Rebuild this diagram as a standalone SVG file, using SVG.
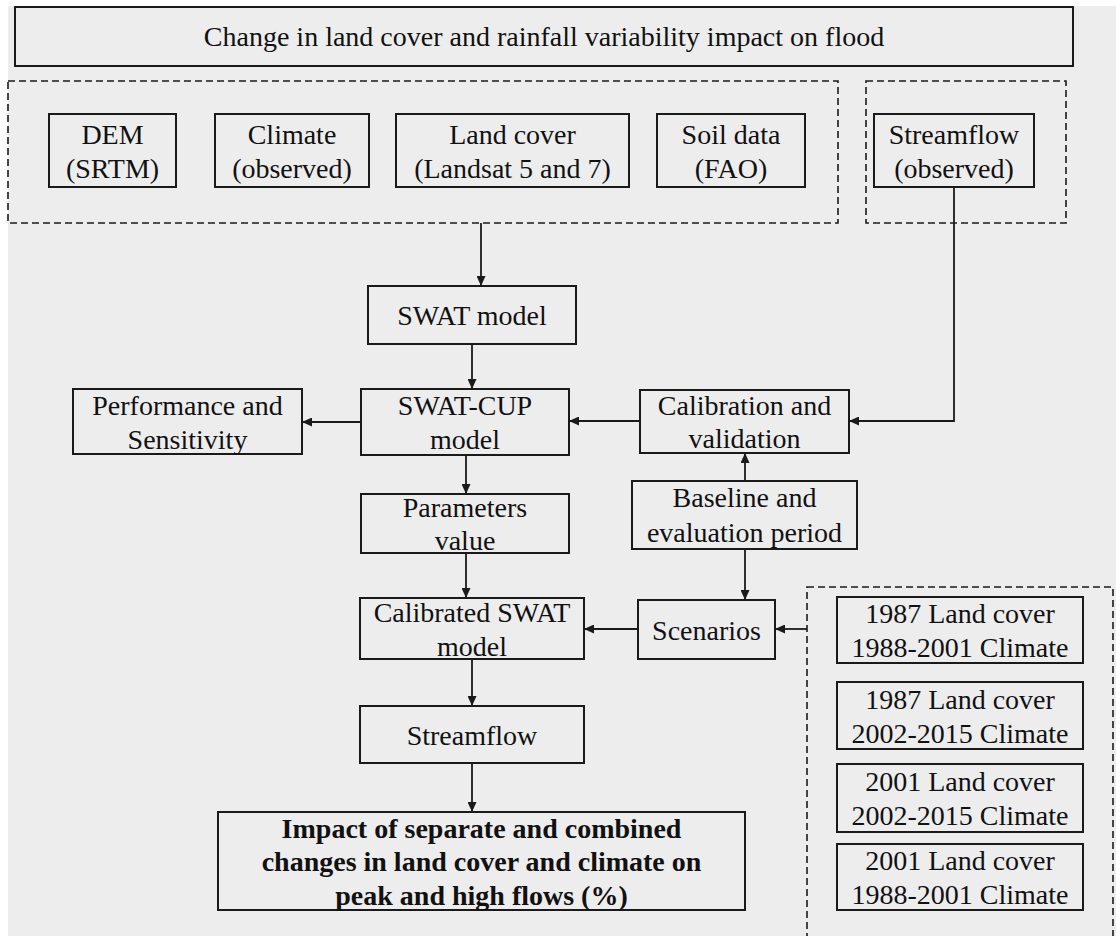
<svg xmlns="http://www.w3.org/2000/svg" width="1116" height="936" viewBox="0 0 1116 936">
<style>
.box{fill:none;stroke:#1a1a1a;stroke-width:2}
.dash{fill:none;stroke:#1a1a1a;stroke-width:1.6;stroke-dasharray:7 4}
.ln{fill:none;stroke:#1a1a1a;stroke-width:1.8}
text{font-family:"Liberation Serif","Times New Roman",serif;font-size:28px;fill:#111;text-anchor:middle}
.b{font-weight:bold}
</style>
<defs>
<marker id="ah" markerUnits="userSpaceOnUse" markerWidth="11" markerHeight="9" refX="10" refY="4.5" orient="auto">
<path d="M0,0 L10,4.5 L0,9 Z" fill="#1a1a1a"/>
</marker>
</defs>
<rect x="0" y="0" width="1116" height="936" fill="#ffffff"/>
<rect x="8" y="6" width="1108" height="930" fill="#ededed"/>

<g id="title"><rect class="box" x="15" y="7" width="1058" height="59"/><text x="544" y="46">Change in land cover and rainfall variability impact on flood</text></g>

<g id="inputs-group"><rect class="dash" x="8" y="81" width="830" height="142"/></g>
<g id="streamflow-obs-group"><rect class="dash" x="866" y="81" width="200" height="142"/></g>
<g id="scenario-group"><rect class="dash" x="807" y="587" width="306" height="360"/></g>

<g id="dem"><rect class="box" x="49" y="114" width="127" height="73"/><text x="112.5" y="143.5">DEM</text><text x="112.5" y="177.5">(SRTM)</text></g>
<g id="climate"><rect class="box" x="215" y="114" width="154" height="73"/><text x="292" y="143.5">Climate</text><text x="292" y="177.5">(observed)</text></g>
<g id="landcover"><rect class="box" x="396" y="114" width="233" height="73"/><text x="512.5" y="143.5">Land cover</text><text x="512.5" y="177.5">(Landsat 5 and 7)</text></g>
<g id="soil"><rect class="box" x="657" y="114" width="148" height="73"/><text x="731" y="143.5">Soil data</text><text x="731" y="177.5">(FAO)</text></g>
<g id="streamflow-obs"><rect class="box" x="874" y="114" width="160" height="73"/><text x="954" y="143.5">Streamflow</text><text x="954" y="177.5">(observed)</text></g>

<g id="swat"><rect class="box" x="368" y="286" width="208" height="58"/><text x="472" y="325">SWAT model</text></g>
<g id="swatcup"><rect class="box" x="361" y="389" width="208" height="66"/><text x="465" y="415">SWAT-CUP</text><text x="465" y="449">model</text></g>
<g id="performance"><rect class="box" x="73" y="389" width="229" height="65"/><text x="187.5" y="415">Performance and</text><text x="187.5" y="449">Sensitivity</text></g>
<g id="calibration"><rect class="box" x="640" y="390" width="209" height="63"/><text x="744.5" y="415">Calibration and</text><text x="744.5" y="448">validation</text></g>
<g id="baseline"><rect class="box" x="632" y="481" width="225" height="68"/><text x="744.5" y="507">Baseline and</text><text x="744.5" y="542">evaluation period</text></g>
<g id="parameters"><rect class="box" x="361" y="494" width="208" height="59"/><text x="465" y="517">Parameters</text><text x="465" y="550">value</text></g>
<g id="calibrated"><rect class="box" x="360" y="598" width="224" height="61"/><text x="472" y="622">Calibrated SWAT</text><text x="472" y="656">model</text></g>
<g id="scenarios"><rect class="box" x="638" y="600" width="137" height="59"/><text x="706.5" y="640">Scenarios</text></g>
<g id="streamflow"><rect class="box" x="360" y="706" width="224" height="57"/><text x="472" y="745">Streamflow</text></g>
<g id="impact"><rect class="box" x="218" y="812" width="527" height="98"/><text class="b" x="481.5" y="838">Impact of separate and combined</text><text class="b" x="481.5" y="871">changes in land cover and climate on</text><text class="b" x="481.5" y="905">peak and high flows (%)</text></g>

<g id="s1"><rect class="box" x="837" y="597" width="246" height="66"/><text x="960" y="623">1987 Land cover</text><text x="960" y="657">1988-2001 Climate</text></g>
<g id="s2"><rect class="box" x="837" y="682" width="246" height="67"/><text x="960" y="708.5">1987 Land cover</text><text x="960" y="742.5">2002-2015 Climate</text></g>
<g id="s3"><rect class="box" x="837" y="764" width="246" height="68"/><text x="960" y="791">2001 Land cover</text><text x="960" y="825">2002-2015 Climate</text></g>
<g id="s4"><rect class="box" x="837" y="844" width="246" height="66"/><text x="960" y="870">2001 Land cover</text><text x="960" y="904">1988-2001 Climate</text></g>

<g id="connectors">
<path class="ln" d="M481,223 V286" marker-end="url(#ah)"/>
<path class="ln" d="M472,344 V389" marker-end="url(#ah)"/>
<path class="ln" d="M361,422 H302" marker-end="url(#ah)"/>
<path class="ln" d="M640,421 H569" marker-end="url(#ah)"/>
<path class="ln" d="M954,187 V421 H849" marker-end="url(#ah)"/>
<path class="ln" d="M745,481 V453" marker-end="url(#ah)"/>
<path class="ln" d="M745,549 V600" marker-end="url(#ah)"/>
<path class="ln" d="M466,455 V494" marker-end="url(#ah)"/>
<path class="ln" d="M466,553 V598" marker-end="url(#ah)"/>
<path class="ln" d="M638,629 H584" marker-end="url(#ah)"/>
<path class="ln" d="M807,629 H775" marker-end="url(#ah)"/>
<path class="ln" d="M472,659 V706" marker-end="url(#ah)"/>
<path class="ln" d="M472,763 V812" marker-end="url(#ah)"/>
</g>
</svg>
